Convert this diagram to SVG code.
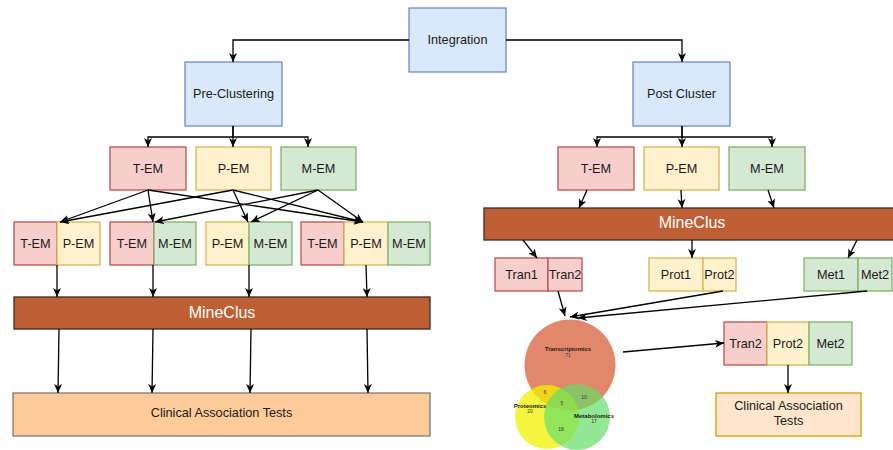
<svg xmlns="http://www.w3.org/2000/svg" width="893" height="450" viewBox="0 0 893 450">
<style>
text{font-family:"Liberation Sans",Arial,sans-serif;font-size:12.7px;fill:#1a1a1a;text-anchor:middle;dominant-baseline:central}
.blue{fill:#dae8fc;stroke:#6c8ebf;stroke-width:1.3}
.red{fill:#f8cecc;stroke:#b85450;stroke-width:1.3}
.yel{fill:#fff2cc;stroke:#d6b656;stroke-width:1.3}
.grn{fill:#d5e8d4;stroke:#82b366;stroke-width:1.3}
.mc{fill:#bf5f36;stroke:#3a2a20;stroke-width:1.3}
.mct{fill:#ffffff;font-size:16px}
.ca{fill:#ffcc99;stroke:#7a7a7a;stroke-width:1.3}
.ca2{fill:#ffe6cc;stroke:#d79b00;stroke-width:1.3}
.conn path{fill:none;stroke:#000;stroke-width:1.3;marker-end:url(#ah)}
.vl{font-size:6px;font-weight:bold}
.vn{font-size:5px;fill:#333}
</style>
<defs>
<marker id="ah" markerUnits="userSpaceOnUse" markerWidth="10" markerHeight="10" refX="9" refY="5" orient="auto">
<path d="M0,1 L9,5 L0,9 L2.5,5 z" fill="#000"/>
</marker>
</defs>
<rect width="893" height="450" fill="#fff"/>

<g id="integration"><rect class="blue" x="409" y="8" width="97" height="64"/><text x="457.5" y="40">Integration</text></g>
<g id="pre-clustering"><rect class="blue" x="185" y="62" width="97" height="64"/><text x="233.5" y="94">Pre-Clustering</text></g>
<g id="post-cluster"><rect class="blue" x="633" y="62" width="97" height="64"/><text x="681.5" y="94">Post Cluster</text></g>

<g id="l-tem"><rect class="red" x="110" y="147" width="76" height="43"/><text x="148" y="168.5">T-EM</text></g>
<g id="l-pem"><rect class="yel" x="196" y="147" width="75" height="43"/><text x="233.5" y="168.5">P-EM</text></g>
<g id="l-mem"><rect class="grn" x="281" y="147" width="75" height="43"/><text x="318.5" y="168.5">M-EM</text></g>

<g id="r-tem"><rect class="red" x="558" y="147" width="76" height="43"/><text x="596" y="168.5">T-EM</text></g>
<g id="r-pem"><rect class="yel" x="644" y="147" width="75" height="43"/><text x="681.5" y="168.5">P-EM</text></g>
<g id="r-mem"><rect class="grn" x="729" y="147" width="76" height="43"/><text x="767" y="168.5">M-EM</text></g>

<g id="combo-tp"><rect class="red" x="14" y="222" width="43" height="43"/><text x="35.5" y="243.5">T-EM</text><rect class="yel" x="57" y="222" width="43" height="43"/><text x="78.5" y="243.5">P-EM</text></g>
<g id="combo-tm"><rect class="red" x="110" y="222" width="44" height="43"/><text x="132" y="243.5">T-EM</text><rect class="grn" x="154" y="222" width="42" height="43"/><text x="175" y="243.5">M-EM</text></g>
<g id="combo-pm"><rect class="yel" x="206" y="222" width="43" height="43"/><text x="227.5" y="243.5">P-EM</text><rect class="grn" x="249" y="222" width="43" height="43"/><text x="270.5" y="243.5">M-EM</text></g>
<g id="combo-tpm"><rect class="red" x="301" y="222" width="43" height="43"/><text x="322.5" y="243.5">T-EM</text><rect class="yel" x="344" y="222" width="44" height="43"/><text x="366" y="243.5">P-EM</text><rect class="grn" x="388" y="222" width="42" height="43"/><text x="409" y="243.5">M-EM</text></g>

<g id="l-mineclus"><rect class="mc" x="14" y="297" width="416" height="32"/><text class="mct" x="222" y="312">MineClus</text></g>
<g id="l-clinical"><rect class="ca" x="13" y="393" width="417" height="43"/><text x="221.5" y="413">Clinical Association Tests</text></g>

<g id="r-mineclus"><rect class="mc" x="484" y="208" width="412" height="32"/><text class="mct" x="692" y="222">MineClus</text></g>

<g id="tran"><rect class="red" x="495" y="258" width="53" height="33"/><text x="521.5" y="274.5">Tran1</text><rect class="red" x="548" y="258" width="34" height="33"/><text x="565" y="274.5">Tran2</text></g>
<g id="prot"><rect class="yel" x="649" y="258" width="54" height="33"/><text x="676" y="274.5">Prot1</text><rect class="yel" x="703" y="258" width="33" height="33"/><text x="719.5" y="274.5">Prot2</text></g>
<g id="met"><rect class="grn" x="804" y="258" width="54" height="33"/><text x="831" y="274.5">Met1</text><rect class="grn" x="858" y="258" width="34" height="33"/><text x="875" y="274.5">Met2</text></g>

<g id="venn">
<circle cx="570" cy="365" r="45.5" fill="#e07a5c" fill-opacity="0.9"/>
<circle cx="547" cy="417" r="32" fill="#f2f200" fill-opacity="0.75"/>
<circle cx="577" cy="417" r="33" fill="#66dd66" fill-opacity="0.7"/>
<text class="vl" x="568" y="349">Transcriptomics</text><text class="vn" x="568" y="355">71</text>
<text class="vn" x="545" y="392">6</text>
<text class="vn" x="562" y="403">5</text>
<text class="vn" x="584" y="397">10</text>
<text class="vl" x="530" y="406">Proteomics</text><text class="vn" x="530" y="411">20</text>
<text class="vl" x="594" y="416">Metabolomics</text><text class="vn" x="594" y="421">17</text>
<text class="vn" x="561" y="429">19</text>
</g>

<g id="final-combo"><rect class="red" x="724" y="322" width="43" height="43"/><text x="745.5" y="343.5">Tran2</text><rect class="yel" x="767" y="322" width="42" height="43"/><text x="788" y="343.5">Prot2</text><rect class="grn" x="809" y="322" width="43" height="43"/><text x="830.5" y="343.5">Met2</text></g>
<g id="r-clinical"><rect class="ca2" x="716" y="393" width="145" height="43"/><text x="788.5" y="406">Clinical Association</text><text x="788.5" y="421">Tests</text></g>

<g class="conn" id="connectors">
<path d="M409,40 H233 V62"/>
<path d="M506,40 H682 V62"/>
<path d="M233,126 V137 H148 V147"/>
<path d="M233,126 V147"/>
<path d="M233,137 H308 V147"/>
<path d="M682,126 V137 H597 V147"/>
<path d="M682,126 V147"/>
<path d="M682,137 H772 V147"/>
<path d="M148,190 L60,222"/>
<path d="M148,190 L153,222"/>
<path d="M148,190 L363,222"/>
<path d="M233,190 L60,222"/>
<path d="M233,190 L248,222"/>
<path d="M233,190 L363,222"/>
<path d="M318,190 L155,222"/>
<path d="M318,190 L251,222"/>
<path d="M318,190 L363,222"/>
<path d="M57,265 V297"/>
<path d="M153,265 V297"/>
<path d="M249,265 V297"/>
<path d="M366,265 L367,297"/>
<path d="M59,329 L58,393"/>
<path d="M153,329 L152,393"/>
<path d="M251,329 L250,393"/>
<path d="M367,329 L368,393"/>
<path d="M587,190 L579,208"/>
<path d="M681,190 L682,208"/>
<path d="M768,190 L774,208"/>
<path d="M523,240 L537,258"/>
<path d="M692,240 V258"/>
<path d="M857,240 L848,258"/>
<path d="M558,291 L565,316"/>
<path d="M723,291 L570,317"/>
<path d="M867,291 L578,318"/>
<path d="M623,352 L724,343"/>
<path d="M788,365 V393"/>
</g>
</svg>
